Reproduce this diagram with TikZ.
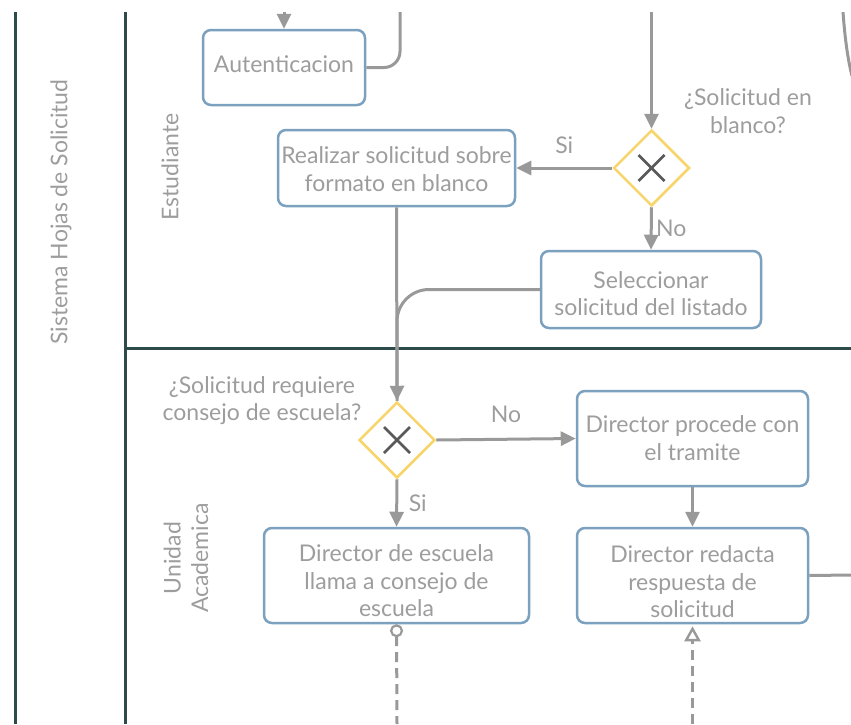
\documentclass[tikz,border=0pt]{standalone}
\usepackage{fontspec}
\setmainfont{Lato}
\usetikzlibrary{arrows.meta,shapes.geometric,calc}
\definecolor{laneline}{HTML}{2D4B4B}
\definecolor{taskline}{HTML}{7BA1BF}
\definecolor{gateline}{HTML}{F8D56A}
\definecolor{flowline}{HTML}{999999}
\definecolor{txtgray}{HTML}{9D9D9D}
\definecolor{crossgray}{HTML}{595959}
\tikzset{
  lane/.style={draw=laneline, line width=3pt},
  task/.style={draw=taskline, line width=2.5pt, rounded corners=8pt, fill=white, inner sep=0pt},
  tasktext/.style={text=txtgray, font=\fontsize{23}{27.5}\selectfont, align=center, inner sep=0pt},
  gate/.style={diamond, draw=gateline, line width=2.5pt, fill=white, minimum width=76pt, minimum height=76pt, inner sep=0pt},
  cross/.style={draw=crossgray, line width=2.5pt},
  line/.style={draw=flowline, line width=3pt},
  flow/.style={line, -{Triangle[length=15pt, width=14pt]}},
  msg/.style={draw=flowline, line width=3pt, dash pattern=on 10pt off 6pt},
  lbl/.style={text=txtgray, font=\fontsize{23}{27.5}\selectfont, align=center, inner sep=0pt},
}
\begin{document}
\begin{tikzpicture}[x=1pt, y=-1pt]
\useasboundingbox (0,0) rectangle (851,724);
\begin{scope}
\clip (0,12) rectangle (851,724);

% pool and lane borders
\draw[lane] (15,12) -- (15,724);
\draw[lane] (125,12) -- (125,724);
\draw[lane] (125,348) -- (851,348);

% pool and lane titles
\node[lbl, rotate=90] (pool) at (61,212) {Sistema Hojas de Solicitud};
\node[lbl, rotate=90] (laneA) at (170,167) {Estudiante};
\node[lbl, rotate=90] (laneB) at (186,558) {Unidad\\Academica};

% tasks
\node[task, minimum width=162pt, minimum height=75pt] (auth) at (284,67.5) {};
\node[tasktext] (authT) at (284,64) {Autenticacion};
\node[task, minimum width=237pt, minimum height=76pt] (real) at (396.5,168) {};
\node[tasktext] (realT) at (396.5,169) {Realizar solicitud sobre\\formato en blanco};
\node[task, minimum width=220pt, minimum height=77pt] (sel) at (651,289.5) {};
\node[tasktext] (selT) at (651,293.5) {Seleccionar\\solicitud del listado};
\node[task, minimum width=231pt, minimum height=95pt] (proc) at (692.5,438.5) {};
\node[tasktext] (procT) at (692.5,438) {Director procede con\\el tramite};
\node[task, minimum width=265pt, minimum height=95pt] (cons) at (396.5,575.5) {};
\node[tasktext] (consT) at (396.5,581) {Director de escuela\\llama a consejo de\\escuela};
\node[task, minimum width=231pt, minimum height=95pt] (resp) at (692.5,575.5) {};
\node[tasktext] (respT) at (692.5,582) {Director redacta\\respuesta de\\solicitud};

% exclusive gateways
\node[gate] (g1) at (651.5,168) {};
\draw[cross] ($(g1)+(-13,-13)$) -- ($(g1)+(13,13)$);
\draw[cross] ($(g1)+(-13,13)$) -- ($(g1)+(13,-13)$);
\node[lbl] (g1q) at (748,111) {¿Solicitud en\\blanco?};
\node[gate] (g2) at (397,440) {};
\draw[cross] ($(g2)+(-13,-13)$) -- ($(g2)+(13,13)$);
\draw[cross] ($(g2)+(-13,13)$) -- ($(g2)+(13,-13)$);
\node[lbl] (g2q) at (262,400.5) {¿Solicitud requiere\\consejo de escuela?};

% free ends of connectors
\coordinate (inAuth) at (284,12);
\coordinate (outAuth) at (400,12);
\coordinate (inG1) at (651.5,12);
\coordinate (outResp) at (851,575);
\coordinate (downCons) at (397,724);
\coordinate (upResp) at (692.5,724);
\coordinate (farTop) at (843,12);
\coordinate (farEnd) at (852,76);

% sequence flows
\draw[flow] (inAuth) -- (auth.north);
\draw[line, rounded corners=16pt] (auth.east) -| (outAuth);
\draw[flow] (inG1) -- (g1.north);
\draw[flow] (g1.west) -- (real.east) node[lbl, midway, yshift=23pt] (siA) {Si};
\draw[flow] (g1.south) -- (sel.north) node[lbl, midway, xshift=20pt] (noA) {No};
\draw[line, rounded corners=32pt] (sel.west) -| (g2.north);
\draw[flow] (real.south) -- (g2.north);
\draw[flow] (g2.east) -- (proc.west) node[lbl, midway, yshift=25pt] (noB) {No};
\draw[flow] (g2.south) -- (cons.north) node[lbl, midway, xshift=21pt] (siB) {Si};
\draw[flow] (proc.south) -- (resp.north);
\draw[line] (resp.east) -- (outResp);
\draw[line] (farTop) .. controls (845,40) and (848,60) .. (farEnd);

% message flows
\draw[msg, {Circle[open, length=13pt, width=13pt, line width=2.2pt, sep=0pt]}-] (cons.south) -- (downCons);
\draw[msg, -{Triangle[open, length=15pt, width=16pt, line width=2.4pt, sep=2pt]}] (upResp) -- (resp.south);
\end{scope}
\end{tikzpicture}
\end{document}
